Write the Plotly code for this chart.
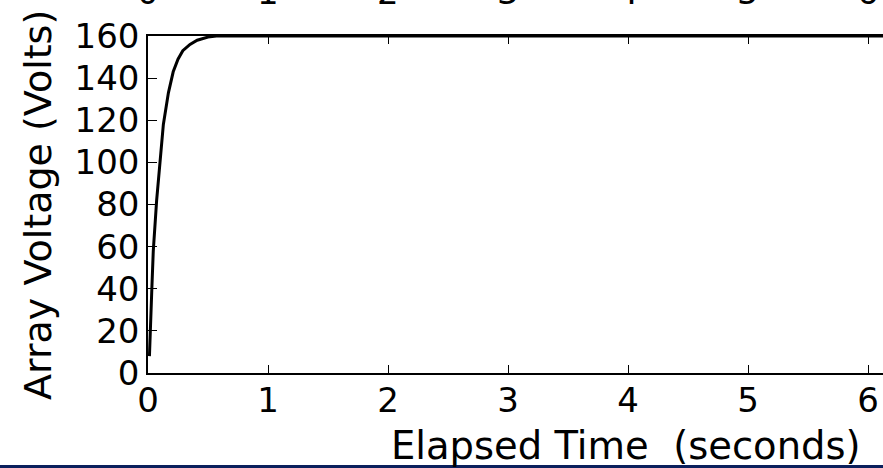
import plotly.graph_objects as go

# Data
time_s = [0.012, 0.018, 0.025, 0.032, 0.044, 0.058, 0.072, 0.1, 0.128, 0.17,
          0.21, 0.25, 0.29, 0.35, 0.41, 0.5, 0.57, 0.7, 1, 2, 3, 4, 5, 6, 7, 8]
voltage = [8, 20, 32, 40, 58, 73, 82, 100, 118, 133,
           143, 149, 153, 156, 158, 159.5, 160, 160, 160, 160, 160, 160, 160, 160, 160, 160]
x_ticks = [0, 1, 2, 3, 4, 5, 6]
y_ticks = [0, 20, 40, 60, 80, 100, 120, 140, 160]

W, H = 883, 468
L, R, T, B = 148, 0, 36, 95
PW = W - L - R
PH = H - T - B
FONT = "DejaVu Sans"

fig = go.Figure()
fig.add_trace(go.Scatter(x=time_s, y=voltage, mode="lines",
                         line=dict(color="black", width=3), showlegend=False))

annotations = []
# cut-off tick labels of the chart above
for v in x_ticks:
    annotations.append(dict(x=v, xref="x", y=1 + (T - 14) / PH, yref="paper",
                            text=str(v), showarrow=False, xanchor="center",
                            yanchor="bottom", font=dict(family=FONT, size=34, color="black")))
# axis titles
annotations.append(dict(x=(626 - L) / PW, xref="paper", y=-(445 - (T + PH)) / PH, yref="paper",
                        text="Elapsed Time \u00a0(seconds)", showarrow=False,
                        xanchor="center", yanchor="middle",
                        font=dict(family=FONT, size=38.5, color="black")))
annotations.append(dict(x=(38 - L) / PW, xref="paper", y=((T + PH) - 205) / PH, yref="paper",
                        text="Array Voltage (Volts)", showarrow=False, textangle=-90,
                        xanchor="center", yanchor="middle",
                        font=dict(family=FONT, size=38, color="black")))

fig.update_layout(
    width=W, height=H,
    margin=dict(l=L, r=R, t=T, b=B, pad=0),
    paper_bgcolor="white", plot_bgcolor="white",
    font=dict(family=FONT, size=34, color="black"),
    xaxis=dict(range=[0, PW / 120], tickvals=x_ticks, ticktext=[str(v) for v in x_ticks],
               ticks="inside", ticklen=8, tickwidth=1, tickcolor="black",
               showline=True, linecolor="black", linewidth=1.5, mirror="ticks",
               showgrid=False, zeroline=False, automargin=False, ticklabelstandoff=-4,
               tickfont=dict(family=FONT, size=34)),
    yaxis=dict(range=[0, 160], tickvals=y_ticks,
               ticks="inside", ticklen=9, tickwidth=1, tickcolor="black",
               showline=True, linecolor="black", linewidth=1.5, mirror=False,
               showgrid=False, zeroline=False, automargin=False,
               tickfont=dict(family=FONT, size=34)),
    annotations=annotations,
    shapes=[dict(type="rect", xref="paper", yref="paper",
                 x0=-L / PW, x1=1.01, y0=-(H - (T + PH)) / PH - 0.01, y1=-(465 - (T + PH)) / PH,
                 fillcolor="#0b1f5c", line=dict(width=0), layer="above")],
)

fig.write_html("out.html", config={"displayModeBar": False},
               post_script="document.body.style.margin='0';document.body.style.overflow='hidden';")
